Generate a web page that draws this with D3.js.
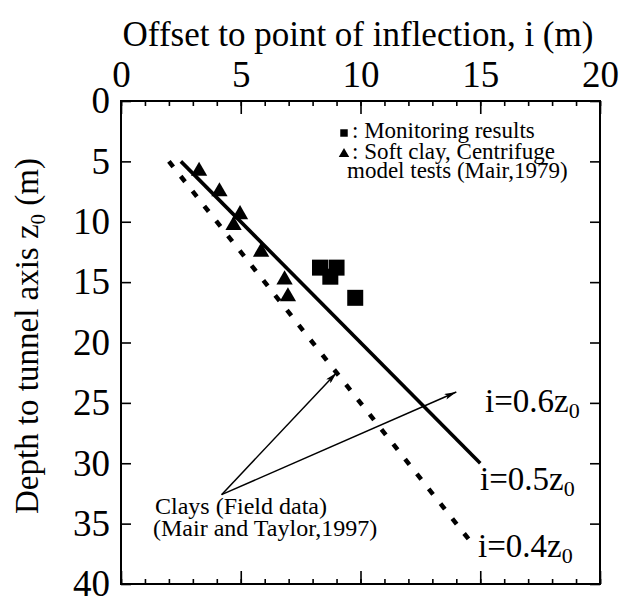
<!DOCTYPE html>
<html>
<head>
<meta charset="utf-8">
<script src="https://cdn.jsdelivr.net/npm/d3@7"></script>
<style>
  body { margin: 0; background: #fff; }
  svg { display: block; }
</style>
</head>
<body>
<svg id="chart" width="632" height="600"></svg>
<script>
// ---- data ----
const xMajorTicks = [0, 5, 10, 15, 20];
const xMinorTicks = d3.range(0, 21, 1);
const yTicks = [0, 5, 10, 15, 20, 25, 30, 35, 40];

// Monitoring results (offset i, depth z0)
const monitorI = [8.31, 9.0, 8.74, 9.78];
const monitorZ = [13.8, 13.8, 14.55, 16.3];

// Soft clay, centrifuge model tests (Mair, 1979)
const centrifugeI = [3.26, 4.11, 4.97, 4.70, 5.85, 6.83, 6.97];
const centrifugeZ = [5.8, 7.5, 9.4, 10.3, 12.5, 14.8, 16.2];

// Trend lines i = k * z0
const trendK = [0.5, 0.4];
const trendZStart = [5, 5];
const trendZEnd = [30, 37];
const trendLabelK = ["0.6", "0.5", "0.4"];

// Annotation arrows (from label to lines), in data units
const arrowFrom = [4.2, 32.6];
const arrowToI = [9.0, 14.0];
const arrowToZ = [22.5, 24.1];

// ---- layout ----
const FONT = '"Liberation Serif", "Times New Roman", Times, "DejaVu Serif", serif';
const svg = d3.select("#chart").attr("font-family", FONT);
const margin = { left: 121, right: 32, top: 101, bottom: 16 };
const W = 632, H = 600;
const x = d3.scaleLinear().domain([0, 20]).range([margin.left, W - margin.right]);
const y = d3.scaleLinear().domain([0, 40]).range([margin.top, H - margin.bottom]);

const defs = svg.append("defs");
defs.append("marker")
  .attr("id", "arrowhead")
  .attr("viewBox", "0 0 12 6")
  .attr("refX", 12).attr("refY", 3)
  .attr("markerWidth", 12).attr("markerHeight", 6)
  .attr("markerUnits", "userSpaceOnUse")
  .attr("orient", "auto")
  .append("path").attr("d", "M0,0 L12,3 L0,6 L2.5,3 Z").attr("fill", "#000");

// frame
svg.append("rect")
  .attr("x", x(0)).attr("y", y(0))
  .attr("width", x(20) - x(0)).attr("height", y(40) - y(0))
  .attr("fill", "none").attr("stroke", "#000").attr("stroke-width", 2);

function styleAxis(g) {
  g.attr("font-family", FONT);
  g.select(".domain").remove();
  g.selectAll(".tick line").attr("stroke", "#000").attr("stroke-width", 1.6);
  g.selectAll(".tick text").attr("fill", "#000").style("font-family", FONT);
}

// top axis: minor and major ticks, labels
svg.append("g").attr("transform", `translate(0,${y(0)})`)
  .call(d3.axisTop(x).tickValues(xMinorTicks).tickSize(-5).tickFormat(""))
  .call(styleAxis);
svg.append("g").attr("transform", `translate(0,${y(0)})`)
  .call(d3.axisTop(x).tickValues(xMajorTicks).tickSize(-13).tickPadding(14).tickFormat(d3.format("d")))
  .call(styleAxis)
  .selectAll("text").style("font-size", "37px");

// bottom axis: ticks only
svg.append("g").attr("transform", `translate(0,${y(40)})`)
  .call(d3.axisBottom(x).tickValues(xMinorTicks).tickSize(-5).tickFormat(""))
  .call(styleAxis);
svg.append("g").attr("transform", `translate(0,${y(40)})`)
  .call(d3.axisBottom(x).tickValues(xMajorTicks).tickSize(-13).tickFormat(""))
  .call(styleAxis);

// left axis with labels
svg.append("g").attr("transform", `translate(${x(0)},0)`)
  .call(d3.axisLeft(y).tickValues(yTicks).tickSize(-10).tickPadding(11).tickFormat(d3.format("d")))
  .call(styleAxis)
  .selectAll("text").style("font-size", "37px");

// right axis ticks
svg.append("g").attr("transform", `translate(${x(20)},0)`)
  .call(d3.axisRight(y).tickValues(yTicks).tickSize(-10).tickFormat(""))
  .call(styleAxis);

// axis titles
svg.append("text")
  .attr("x", 358).attr("y", 46)
  .attr("text-anchor", "middle")
  .style("font-family", FONT)
  .style("font-size", "35px")
  .text("Offset to point of inflection, i (m)");

const yTitle = svg.append("text")
  .attr("transform", "translate(38,336) rotate(-90)")
  .attr("text-anchor", "middle")
  .style("font-family", FONT)
  .style("font-size", "33px");
yTitle.append("tspan").text("Depth to tunnel axis z");
yTitle.append("tspan").attr("dy", 7).style("font-size", "21px").text("0");
yTitle.append("tspan").attr("dy", -7).text(" (m)");

// trend lines
const line = d3.line().x(d => x(d.i)).y(d => y(d.z));
trendK.forEach((k, n) => {
  const pts = [trendZStart[n], trendZEnd[n]].map(z => ({ i: k * z, z }));
  svg.append("path")
    .attr("d", line(pts))
    .attr("fill", "none")
    .attr("stroke", "#000")
    .attr("stroke-width", n === 0 ? 3.6 : 4.5)
    .attr("stroke-dasharray", n === 0 ? null : "7,12");
});

// trend labels
const labelPos = [[485, 412], [480, 490], [478, 557]];
trendLabelK.forEach((k, n) => {
  const t = svg.append("text")
    .attr("x", labelPos[n][0]).attr("y", labelPos[n][1])
    .style("font-family", FONT)
    .style("font-size", "33px");
  t.append("tspan").text(`i=${k}z`);
  t.append("tspan").attr("dy", 6).style("font-size", "22px").text("0");
});

// annotation arrows
arrowToI.forEach((ti, n) => {
  svg.append("line")
    .attr("x1", x(arrowFrom[0])).attr("y1", y(arrowFrom[1]))
    .attr("x2", x(ti)).attr("y2", y(arrowToZ[n]))
    .attr("stroke", "#000").attr("stroke-width", 1.5)
    .attr("marker-end", "url(#arrowhead)");
});

// annotation text
svg.append("text").attr("x", 155).attr("y", 514).style("font-family", FONT).style("font-size", "24px").text("Clays (Field data)");
svg.append("text").attr("x", 153).attr("y", 536).style("font-family", FONT).style("font-size", "24px").text("(Mair and Taylor,1997)");

// markers
const square = d3.symbol().type(d3.symbolSquare).size(256);
const triangle = d3.symbol().type(d3.symbolTriangle).size(115);

svg.append("g").selectAll("path")
  .data(centrifugeI.map((v, n) => ({ i: v, z: centrifugeZ[n] })))
  .join("path")
  .attr("d", triangle)
  .attr("transform", d => `translate(${x(d.i)},${y(d.z)})`)
  .attr("fill", "#000");

svg.append("g").selectAll("path")
  .data(monitorI.map((v, n) => ({ i: v, z: monitorZ[n] })))
  .join("path")
  .attr("d", square)
  .attr("transform", d => `translate(${x(d.i)},${y(d.z)})`)
  .attr("fill", "#000");

// legend
const legend = svg.append("g");
legend.append("path").attr("d", d3.symbol().type(d3.symbolSquare).size(56)())
  .attr("transform", "translate(344,133)").attr("fill", "#000");
legend.append("text").attr("x", 352).attr("y", 138).style("font-family", FONT).style("font-size", "23px").text(": Monitoring results");
legend.append("path").attr("d", d3.symbol().type(d3.symbolTriangle).size(48)())
  .attr("transform", "translate(344,154)").attr("fill", "#000");
legend.append("text").attr("x", 352).attr("y", 159).style("font-family", FONT).style("font-size", "23px").text(": Soft clay, Centrifuge");
legend.append("text").attr("x", 347).attr("y", 178).style("font-family", FONT).style("font-size", "23px").text("model tests (Mair,1979)");
</script>
</body>
</html>
